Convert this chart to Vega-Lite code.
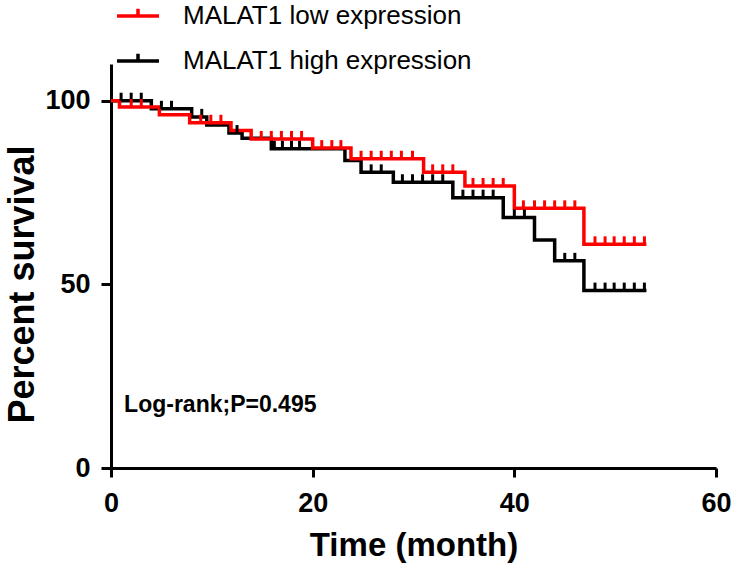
{
  "$schema": "https://vega.github.io/schema/vega-lite/v6.json",
  "width": 605,
  "height": 404,
  "autosize": "none",
  "padding": {"left": 111, "top": 64, "right": 19, "bottom": 99},
  "background": "white",
  "config": {"view": {"stroke": null}, "font": "Liberation Sans"},
  "datasets": {
    "curves": [
      {"group": "MALAT1 high expression", "t": 0, "s": 100},
      {"group": "MALAT1 high expression", "t": 4.0, "s": 97.8},
      {"group": "MALAT1 high expression", "t": 8.0, "s": 95.6},
      {"group": "MALAT1 high expression", "t": 9.5, "s": 93.4},
      {"group": "MALAT1 high expression", "t": 11.7, "s": 91.2},
      {"group": "MALAT1 high expression", "t": 13.0, "s": 89.8},
      {"group": "MALAT1 high expression", "t": 15.9, "s": 86.9},
      {"group": "MALAT1 high expression", "t": 23.2, "s": 83.7},
      {"group": "MALAT1 high expression", "t": 24.8, "s": 80.5},
      {"group": "MALAT1 high expression", "t": 28.0, "s": 77.8},
      {"group": "MALAT1 high expression", "t": 33.9, "s": 73.6},
      {"group": "MALAT1 high expression", "t": 38.9, "s": 68.2},
      {"group": "MALAT1 high expression", "t": 42.0, "s": 62.1},
      {"group": "MALAT1 high expression", "t": 44.0, "s": 56.4},
      {"group": "MALAT1 high expression", "t": 46.9, "s": 48.3},
      {"group": "MALAT1 high expression", "t": 53.1, "s": 48.3},
      {"group": "MALAT1 low expression", "t": 0, "s": 100},
      {"group": "MALAT1 low expression", "t": 0.84, "s": 98.3},
      {"group": "MALAT1 low expression", "t": 4.8, "s": 96.2},
      {"group": "MALAT1 low expression", "t": 7.8, "s": 94.0},
      {"group": "MALAT1 low expression", "t": 11.9, "s": 91.9},
      {"group": "MALAT1 low expression", "t": 13.9, "s": 89.6},
      {"group": "MALAT1 low expression", "t": 20.0, "s": 87.1},
      {"group": "MALAT1 low expression", "t": 23.8, "s": 84.2},
      {"group": "MALAT1 low expression", "t": 31.0, "s": 80.5},
      {"group": "MALAT1 low expression", "t": 35.1, "s": 76.8},
      {"group": "MALAT1 low expression", "t": 40.0, "s": 70.7},
      {"group": "MALAT1 low expression", "t": 46.9, "s": 60.9},
      {"group": "MALAT1 low expression", "t": 53.1, "s": 60.9}
    ],
    "censor": [
      {"group": "MALAT1 high expression", "t": 1.0, "s": 100},
      {"group": "MALAT1 high expression", "t": 2.0, "s": 100},
      {"group": "MALAT1 high expression", "t": 3.0, "s": 100},
      {"group": "MALAT1 high expression", "t": 5.0, "s": 97.8},
      {"group": "MALAT1 high expression", "t": 6.0, "s": 97.8},
      {"group": "MALAT1 high expression", "t": 9.0, "s": 95.6},
      {"group": "MALAT1 high expression", "t": 12.5, "s": 91.2},
      {"group": "MALAT1 high expression", "t": 16.2, "s": 86.9},
      {"group": "MALAT1 high expression", "t": 17.0, "s": 86.9},
      {"group": "MALAT1 high expression", "t": 17.9, "s": 86.9},
      {"group": "MALAT1 high expression", "t": 18.7, "s": 86.9},
      {"group": "MALAT1 high expression", "t": 25.8, "s": 80.5},
      {"group": "MALAT1 high expression", "t": 26.8, "s": 80.5},
      {"group": "MALAT1 high expression", "t": 28.9, "s": 77.8},
      {"group": "MALAT1 high expression", "t": 29.9, "s": 77.8},
      {"group": "MALAT1 high expression", "t": 30.9, "s": 77.8},
      {"group": "MALAT1 high expression", "t": 31.9, "s": 77.8},
      {"group": "MALAT1 high expression", "t": 32.9, "s": 77.8},
      {"group": "MALAT1 high expression", "t": 34.9, "s": 73.6},
      {"group": "MALAT1 high expression", "t": 35.9, "s": 73.6},
      {"group": "MALAT1 high expression", "t": 36.9, "s": 73.6},
      {"group": "MALAT1 high expression", "t": 37.9, "s": 73.6},
      {"group": "MALAT1 high expression", "t": 40.0, "s": 68.2},
      {"group": "MALAT1 high expression", "t": 41.0, "s": 68.2},
      {"group": "MALAT1 high expression", "t": 45.0, "s": 56.4},
      {"group": "MALAT1 high expression", "t": 46.0, "s": 56.4},
      {"group": "MALAT1 high expression", "t": 48.0, "s": 48.3},
      {"group": "MALAT1 high expression", "t": 49.0, "s": 48.3},
      {"group": "MALAT1 high expression", "t": 49.9, "s": 48.3},
      {"group": "MALAT1 high expression", "t": 50.9, "s": 48.3},
      {"group": "MALAT1 high expression", "t": 51.9, "s": 48.3},
      {"group": "MALAT1 high expression", "t": 52.9, "s": 48.3},
      {"group": "MALAT1 low expression", "t": 2.0, "s": 98.3},
      {"group": "MALAT1 low expression", "t": 3.0, "s": 98.3},
      {"group": "MALAT1 low expression", "t": 8.9, "s": 94.0},
      {"group": "MALAT1 low expression", "t": 9.9, "s": 94.0},
      {"group": "MALAT1 low expression", "t": 10.9, "s": 94.0},
      {"group": "MALAT1 low expression", "t": 14.9, "s": 89.6},
      {"group": "MALAT1 low expression", "t": 15.9, "s": 89.6},
      {"group": "MALAT1 low expression", "t": 16.9, "s": 89.6},
      {"group": "MALAT1 low expression", "t": 17.9, "s": 89.6},
      {"group": "MALAT1 low expression", "t": 18.9, "s": 89.6},
      {"group": "MALAT1 low expression", "t": 20.9, "s": 87.1},
      {"group": "MALAT1 low expression", "t": 21.9, "s": 87.1},
      {"group": "MALAT1 low expression", "t": 22.8, "s": 87.1},
      {"group": "MALAT1 low expression", "t": 24.8, "s": 84.2},
      {"group": "MALAT1 low expression", "t": 25.8, "s": 84.2},
      {"group": "MALAT1 low expression", "t": 26.8, "s": 84.2},
      {"group": "MALAT1 low expression", "t": 27.8, "s": 84.2},
      {"group": "MALAT1 low expression", "t": 28.8, "s": 84.2},
      {"group": "MALAT1 low expression", "t": 29.9, "s": 84.2},
      {"group": "MALAT1 low expression", "t": 31.9, "s": 80.5},
      {"group": "MALAT1 low expression", "t": 32.9, "s": 80.5},
      {"group": "MALAT1 low expression", "t": 33.9, "s": 80.5},
      {"group": "MALAT1 low expression", "t": 35.9, "s": 76.8},
      {"group": "MALAT1 low expression", "t": 36.9, "s": 76.8},
      {"group": "MALAT1 low expression", "t": 37.9, "s": 76.8},
      {"group": "MALAT1 low expression", "t": 38.9, "s": 76.8},
      {"group": "MALAT1 low expression", "t": 40.9, "s": 70.7},
      {"group": "MALAT1 low expression", "t": 42.0, "s": 70.7},
      {"group": "MALAT1 low expression", "t": 43.0, "s": 70.7},
      {"group": "MALAT1 low expression", "t": 44.0, "s": 70.7},
      {"group": "MALAT1 low expression", "t": 45.0, "s": 70.7},
      {"group": "MALAT1 low expression", "t": 46.0, "s": 70.7},
      {"group": "MALAT1 low expression", "t": 48.0, "s": 60.9},
      {"group": "MALAT1 low expression", "t": 49.0, "s": 60.9},
      {"group": "MALAT1 low expression", "t": 49.9, "s": 60.9},
      {"group": "MALAT1 low expression", "t": 50.9, "s": 60.9},
      {"group": "MALAT1 low expression", "t": 51.9, "s": 60.9},
      {"group": "MALAT1 low expression", "t": 52.9, "s": 60.9}
    ],
    "note": [{"label": "Log-rank;P=0.495", "t": 1.3, "s": 17.2}]
  },
  "encoding": {
    "x": {
      "field": "t", "type": "quantitative",
      "scale": {"domain": [0, 60], "nice": false},
      "axis": {
        "title": "Time (month)", "values": [0, 20, 40, 60], "grid": false,
        "domainColor": "black", "domainWidth": 3, "tickColor": "black", "tickWidth": 3, "tickSize": 9,
        "labelFont": "Liberation Sans", "labelFontSize": 27, "labelFontWeight": "bold", "labelColor": "black",
        "labelPadding": 13, "labelFlush": false,
        "titleFont": "Liberation Sans", "titleFontSize": 33, "titleFontWeight": "bold", "titleColor": "black", "titlePadding": 13
      }
    },
    "y": {
      "field": "s", "type": "quantitative",
      "scale": {"domain": [0, 110], "nice": false},
      "axis": {
        "title": "Percent survival", "values": [0, 50, 100], "grid": false,
        "domainColor": "black", "domainWidth": 3, "tickColor": "black", "tickWidth": 3, "tickSize": 10,
        "labelFont": "Liberation Sans", "labelFontSize": 27, "labelFontWeight": "bold", "labelColor": "black",
        "labelPadding": 11, "labelFlush": false,
        "titleFont": "Liberation Sans", "titleFontSize": 36, "titleFontWeight": "bold", "titleColor": "black",
        "titleX": -89, "titleY": 220, "titleBaseline": "middle", "titleAlign": "center"
      }
    }
  },
  "layer": [
    {
      "data": {"name": "curves"},
      "mark": {"type": "line", "interpolate": "step-after", "strokeWidth": 3.5},
      "encoding": {
        "color": {
          "field": "group", "type": "nominal",
          "scale": {"domain": ["MALAT1 low expression", "MALAT1 high expression"], "range": ["#ff0000", "#000000"]},
          "legend": {
            "title": null, "orient": "none", "legendX": 4, "legendY": -71,
            "symbolType": "M-1,0L1,0M0,0L0,-0.35", "symbolSize": 1764, "symbolStrokeWidth": 3.5,
            "labelFont": "Liberation Sans", "labelFontSize": 26, "labelColor": "black", "labelOffset": 22,
            "rowPadding": 9, "labelLimit": 400
          }
        },
        "order": {"field": "t", "type": "quantitative"}
      }
    },
    {
      "data": {"name": "censor"},
      "mark": {"type": "rule", "strokeWidth": 3, "y2Offset": -8},
      "encoding": {
        "y2": {"field": "s"},
        "color": {"field": "group", "type": "nominal"}
      }
    },
    {
      "data": {"name": "note"},
      "mark": {"type": "text", "align": "left", "baseline": "middle", "font": "Liberation Sans", "fontSize": 23, "fontWeight": "bold", "color": "black"},
      "encoding": {"text": {"field": "label"}}
    }
  ]
}
